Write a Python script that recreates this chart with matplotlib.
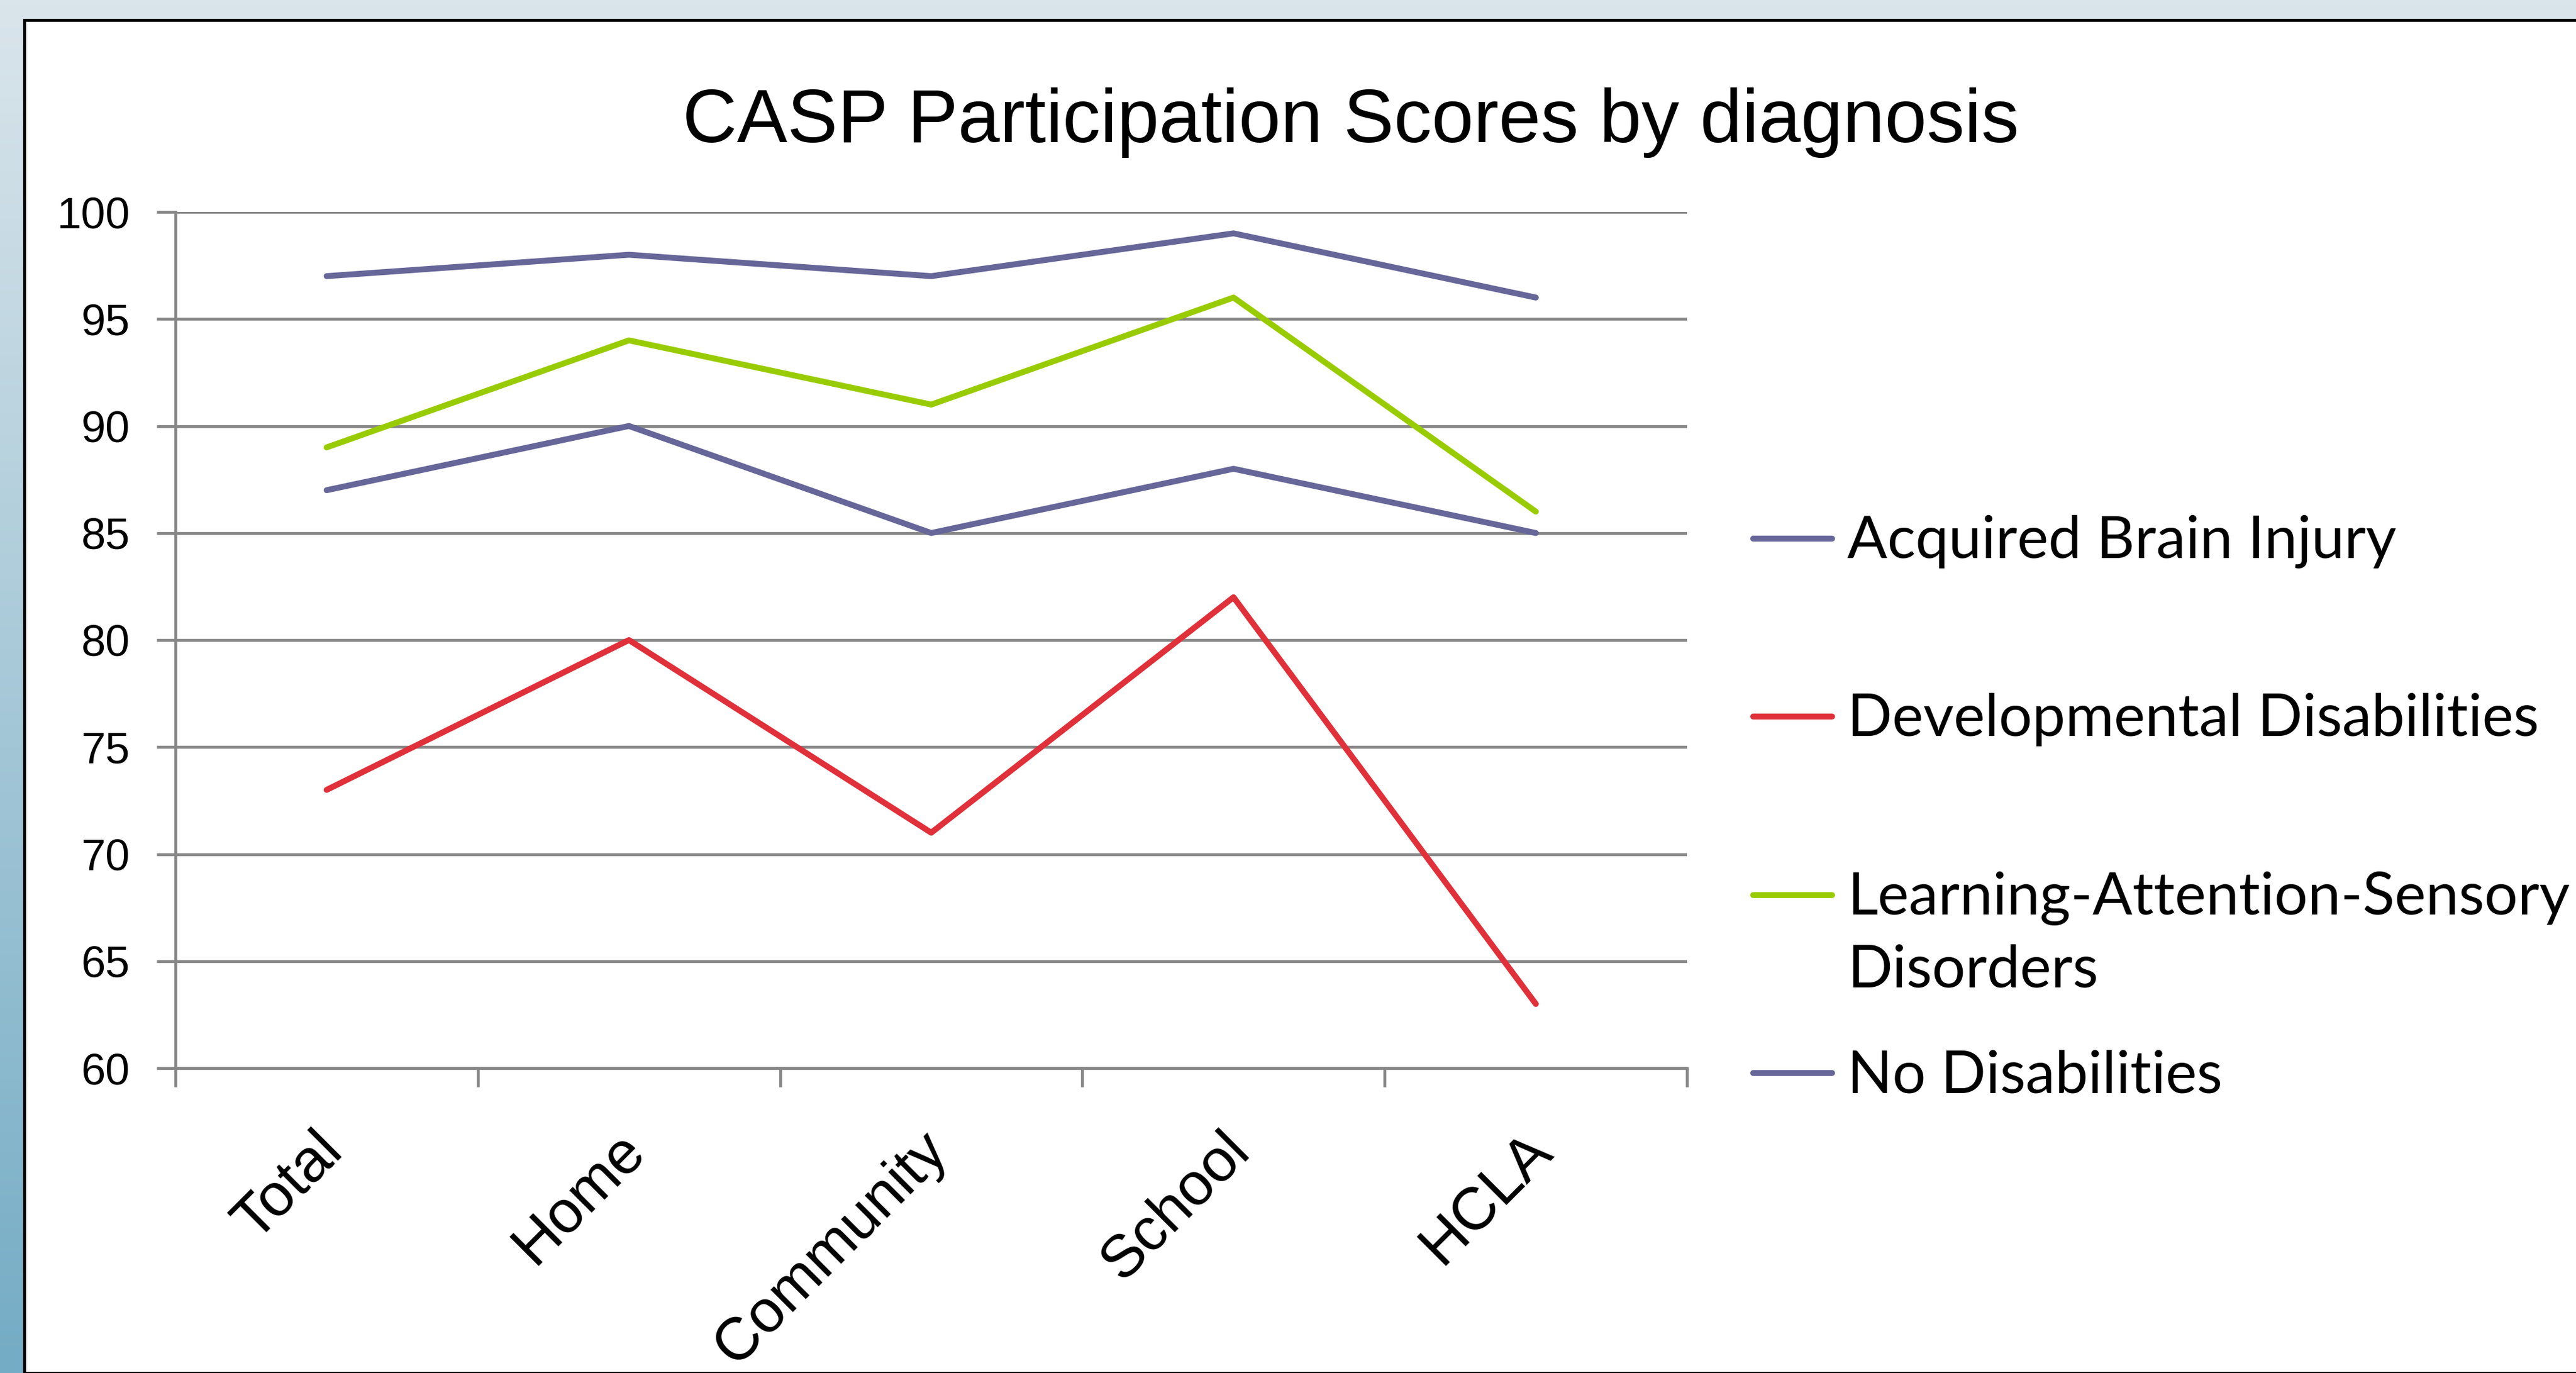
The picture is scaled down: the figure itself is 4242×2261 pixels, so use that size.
import numpy as np
import matplotlib
matplotlib.use("Agg")
import matplotlib.pyplot as plt
from matplotlib.patches import Rectangle
from matplotlib.lines import Line2D
import matplotlib.transforms as mtransforms

# data
categories = ["Total", "Home", "Community", "School", "HCLA"]
series_names = ["Acquired Brain Injury", "Developmental Disabilities",
                "Learning-Attention-Sensory Disorders", "No Disabilities"]
legend_labels = ["Acquired Brain Injury", "Developmental Disabilities",
                 "Learning-Attention-Sensory\nDisorders", "No Disabilities"]
abi = [87, 90, 85, 88, 85]
dev = [73, 80, 71, 82, 63]
las = [89, 94, 91, 96, 86]
nodis = [97, 98, 97, 99, 96]
values = [abi, dev, las, nodis]
colors = ["#666699", "#E0303A", "#99CC00", "#666699"]
yticks = [60, 65, 70, 75, 80, 85, 90, 95, 100]

W, H = 4242, 2261
fig = plt.figure(figsize=(W / 100, H / 100), dpi=100)

# slide background gradient
bg = fig.add_axes([0, 0, 1, 1], zorder=-10)
top_c = np.array([0xDA, 0xE5, 0xEB]) / 255
bot_c = np.array([0x74, 0xAC, 0xC5]) / 255
t = np.linspace(0, 1, 256)[:, None]
grad = (top_c[None, :] * (1 - t) + bot_c[None, :] * t)[:, None, :]
bg.imshow(grad, aspect="auto", extent=[0, 1, 0, 1])
bg.add_patch(Rectangle((40 / W, 0), 1, 1 - 33 / H, facecolor="white",
                       edgecolor="black", linewidth=3.5))
bg.set_xlim(0, 1)
bg.set_ylim(0, 1)
bg.axis("off")

ax = fig.add_axes([289 / W, 1 - 1759 / H, (2778 - 289) / W, (1759 - 349) / H])
ax.set_facecolor("none")

grid_c = "#868686"
lw = 7
glw = 3.4
x = np.arange(len(categories))
for vals, c in zip(values, colors):
    ax.plot(x, vals, color=c, linewidth=lw, solid_capstyle="round",
            solid_joinstyle="round", zorder=3)

ax.set_xlim(-0.5, len(categories) - 0.5)
ax.set_ylim(60, 100)
ax.set_yticks(yticks)
ax.yaxis.grid(True, color=grid_c, linewidth=glw)
ax.set_axisbelow(True)
for s in ["top", "right"]:
    ax.spines[s].set_visible(False)
for s in ["left", "bottom"]:
    ax.spines[s].set_color(grid_c)
    ax.spines[s].set_linewidth(glw)

ax.tick_params(axis="y", length=22, width=glw, color=grid_c, pad=32,
               labelsize=52)
for lab in ax.get_yticklabels():
    lab.set_fontfamily("Liberation Sans")

ax.set_xticks(x)
ax.set_xticks(np.arange(len(categories) + 1) - 0.5, minor=True)
ax.tick_params(axis="x", which="major", length=0, pad=64)
ax.tick_params(axis="x", which="minor", length=22, width=glw, color=grid_c)
ax.set_xticklabels(categories, rotation=45, ha="right", va="top",
                   fontsize=71, fontfamily="Liberation Sans")
shift = mtransforms.ScaledTranslation(0.44, 0, fig.dpi_scale_trans)
for lab in ax.get_xticklabels():
    lab.set_transform(lab.get_transform() + shift)

fig.text(2224 / W, 1 - 234 / H, "CASP Participation Scores by diagnosis",
         ha="center", va="baseline", fontsize=89.5,
         fontfamily="Liberation Sans")

# legend, drawn by hand to match the two-line entry layout
leg_y = [887, 1180, 1474, 1767]
line_gap = 119
for i, yy in enumerate(leg_y):
    fy = 1 - yy / H
    fig.add_artist(Line2D([2887 / W, 3017 / W], [fy, fy], color=colors[i],
                          linewidth=lw, solid_capstyle="round"))
    for k, part in enumerate(legend_labels[i].split("\n")):
        fig.text(3042 / W, 1 - (yy + 32 + k * line_gap) / H, part,
                 ha="left", va="baseline", fontsize=70, fontfamily="Lato")

fig.savefig("out.png", dpi=100)
